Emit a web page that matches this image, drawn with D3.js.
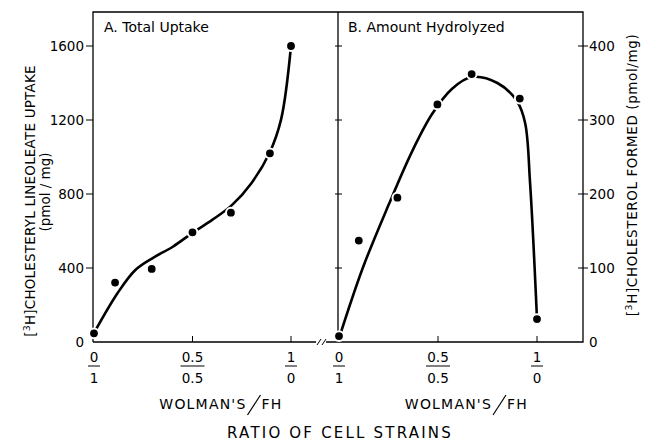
<!DOCTYPE html>
<html>
<head>
<meta charset="utf-8">
<script src="https://cdn.jsdelivr.net/npm/d3@7"></script>
<style>
  html, body { margin: 0; padding: 0; background: #fff; }
  svg { display: block; font-family: "DejaVu Sans", sans-serif; }
</style>
</head>
<body>
<svg id="chart" width="648" height="444"></svg>
<script>
// Panel A: total uptake (pmol/mg), measured points and the hand-drawn curve
const uptakeRatio = [0, 0.107, 0.293, 0.5, 0.695, 0.893, 1.0];
const uptakeValue = [47, 321, 395, 593, 699, 1020, 1600];
const uptakeCurveRatio = [0, 0.12, 0.21, 0.3, 0.4, 0.5, 0.6, 0.7, 0.8, 0.89, 0.95, 1.0];
const uptakeCurveValue = [49, 265, 389, 455, 515, 590, 660, 740, 860, 1020, 1205, 1600];

// Panel B: cholesterol formed (pmol/mg)
const hydroRatio = [0, 0.10, 0.295, 0.497, 0.67, 0.913, 1.0];
const hydroValue = [8, 137, 195, 321, 362, 329, 31];
const hydroCurveRatio = [0, 0.12, 0.25, 0.37, 0.47, 0.57, 0.67, 0.8, 0.9, 0.94, 0.965, 1.0];
const hydroCurveValue = [5, 100, 185, 258, 308, 342, 358, 350, 325, 296, 215, 31];

const uptakeTicks = [0, 400, 800, 1200, 1600];
const hydroTicks = [0, 100, 200, 300, 400];
const ratioTicks = [0, 0.5, 1];
const wolmanLabels = ['0', '0.5', '1'];
const fhLabels = ['1', '0.5', '0'];

const svg = d3.select('#chart');
const frameTop = 12, frameBottom = 342;

const xA = d3.scaleLinear().domain([0, 1]).range([94, 291]);
const xB = d3.scaleLinear().domain([0, 1]).range([339, 537]);
const yA = d3.scaleLinear().domain([0, 1600]).range([frameBottom, 46]);
const yB = d3.scaleLinear().domain([0, 400]).range([frameBottom, 46]);

svg.append('path')
    .attr('fill', 'none').attr('stroke', '#000').attr('stroke-width', 1.3)
    .attr('d', `M93,${frameBottom}V${frameTop}H583V${frameBottom}H93M338,${frameTop}V${frameBottom}`);

// axis break on the x axis
svg.append('rect').attr('x', 316).attr('y', frameBottom - 3).attr('width', 10).attr('height', 6).attr('fill', '#fff');
svg.append('g').attr('stroke', '#000').attr('stroke-width', 1)
  .selectAll('line').data([317, 322]).join('line')
    .attr('x1', d => d).attr('y1', frameBottom + 3)
    .attr('x2', d => d + 4).attr('y2', frameBottom - 3);

// y ticks
const tickG = svg.append('g').attr('stroke', '#000').attr('stroke-width', 1);
tickG.append('g').selectAll('line').data(uptakeTicks.slice(1)).join('line')
    .attr('x1', 86).attr('x2', 93).attr('y1', d => yA(d)).attr('y2', d => yA(d));
tickG.append('g').selectAll('line').data(hydroTicks.slice(1)).join('line')
    .attr('x1', 335).attr('x2', 342).attr('y1', d => yB(d)).attr('y2', d => yB(d));
tickG.append('g').selectAll('line').data(hydroTicks.slice(1)).join('line')
    .attr('x1', 578).attr('x2', 588).attr('y1', d => yB(d)).attr('y2', d => yB(d));

// x ticks (inward)
[xA, xB].forEach(x => {
  tickG.append('g').selectAll('line').data(ratioTicks.slice(1)).join('line')
      .attr('x1', d => x(d)).attr('x2', d => x(d))
      .attr('y1', frameBottom).attr('y2', frameBottom - 6);
});

const txt = svg.append('g').attr('fill', '#000');

txt.append('g').selectAll('text').data(uptakeTicks).join('text')
    .attr('x', 84).attr('y', d => yA(d) + 5)
    .attr('text-anchor', 'end').attr('font-size', 13.5)
    .text(d => d);
txt.append('g').selectAll('text').data(hydroTicks).join('text')
    .attr('x', 589).attr('y', d => yB(d) + 5)
    .attr('font-size', 13.5)
    .text(d => d);

// fraction tick labels
[xA, xB].forEach(x => {
  const g = svg.append('g').selectAll('g').data(ratioTicks).join('g')
      .attr('transform', d => `translate(${x(d)},0)`);
  g.append('text').attr('y', 362).attr('text-anchor', 'middle').attr('font-size', 13.5)
      .text((d, i) => wolmanLabels[i]);
  g.append('line')
      .attr('x1', (d, i) => wolmanLabels[i].length > 1 ? -12 : -6)
      .attr('x2', (d, i) => wolmanLabels[i].length > 1 ? 12 : 6)
      .attr('y1', 366).attr('y2', 366)
      .attr('stroke', '#000').attr('stroke-width', 1);
  g.append('text').attr('y', 383).attr('text-anchor', 'middle').attr('font-size', 13.5)
      .text((d, i) => fhLabels[i]);
});

// WOLMAN'S / FH
[xA, xB].forEach(x => {
  const cx = x(0.5) + 54;
  txt.append('text').attr('x', cx).attr('y', 409).attr('text-anchor', 'end')
      .attr('font-size', 14).attr('letter-spacing', 1.2).text("WOLMAN'S");
  svg.append('line').attr('x1', cx + 1).attr('y1', 415).attr('x2', cx + 14).attr('y2', 395)
      .attr('stroke', '#000').attr('stroke-width', 1.2);
  txt.append('text').attr('x', cx + 15).attr('y', 409)
      .attr('font-size', 14).attr('letter-spacing', 1.2).text('FH');
});

txt.append('text').attr('x', 340).attr('y', 438).attr('text-anchor', 'middle')
    .attr('font-size', 15).attr('letter-spacing', 2.2).text('RATIO OF CELL STRAINS');

// panel titles
txt.append('text').attr('x', 104).attr('y', 32).attr('font-size', 14).text('A. Total Uptake');
txt.append('text').attr('x', 348).attr('y', 32).attr('font-size', 14).text('B. Amount Hydrolyzed');

// y axis titles
function axisTitle(x, y, main, size, spacing) {
  const t = txt.append('text')
      .attr('transform', `translate(${x},${y}) rotate(-90)`)
      .attr('text-anchor', 'middle').attr('font-size', size)
      .attr('letter-spacing', spacing);
  t.append('tspan').text('[');
  t.append('tspan').attr('font-size', size * 0.7).attr('dy', -5).text('3');
  t.append('tspan').attr('dy', 5).text('H]');
  t.append('tspan').text(main);
  return t;
}
axisTitle(35, 201, 'CHOLESTERYL LINEOLEATE UPTAKE', 13.5, 0.2);
txt.append('text').attr('transform', 'translate(50,192) rotate(-90)')
    .attr('text-anchor', 'middle').attr('font-size', 13.5).text('(pmol / mg)');
axisTitle(637, 175, 'CHOLESTEROL FORMED (pmol/mg)', 13.5, 0.6);

// curves
const line = (x, y) => d3.line().x(d => x(d[0])).y(d => y(d[1])).curve(d3.curveCatmullRom.alpha(0.5));
svg.append('path')
    .datum(d3.zip(uptakeCurveRatio, uptakeCurveValue))
    .attr('d', line(xA, yA))
    .attr('fill', 'none').attr('stroke', '#000').attr('stroke-width', 2.6);
svg.append('path')
    .datum(d3.zip(hydroCurveRatio, hydroCurveValue))
    .attr('d', line(xB, yB))
    .attr('fill', 'none').attr('stroke', '#000').attr('stroke-width', 2.6);

// dots with white halo
svg.append('g').selectAll('circle').data(d3.zip(uptakeRatio, uptakeValue)).join('circle')
    .attr('cx', d => xA(d[0])).attr('cy', d => yA(d[1])).attr('r', 4.9)
    .attr('fill', '#000').attr('stroke', '#fff').attr('stroke-width', 2);
svg.append('g').selectAll('circle').data(d3.zip(hydroRatio, hydroValue)).join('circle')
    .attr('cx', d => xB(d[0])).attr('cy', d => yB(d[1])).attr('r', 4.9)
    .attr('fill', '#000').attr('stroke', '#fff').attr('stroke-width', 2);
</script>
</body>
</html>
